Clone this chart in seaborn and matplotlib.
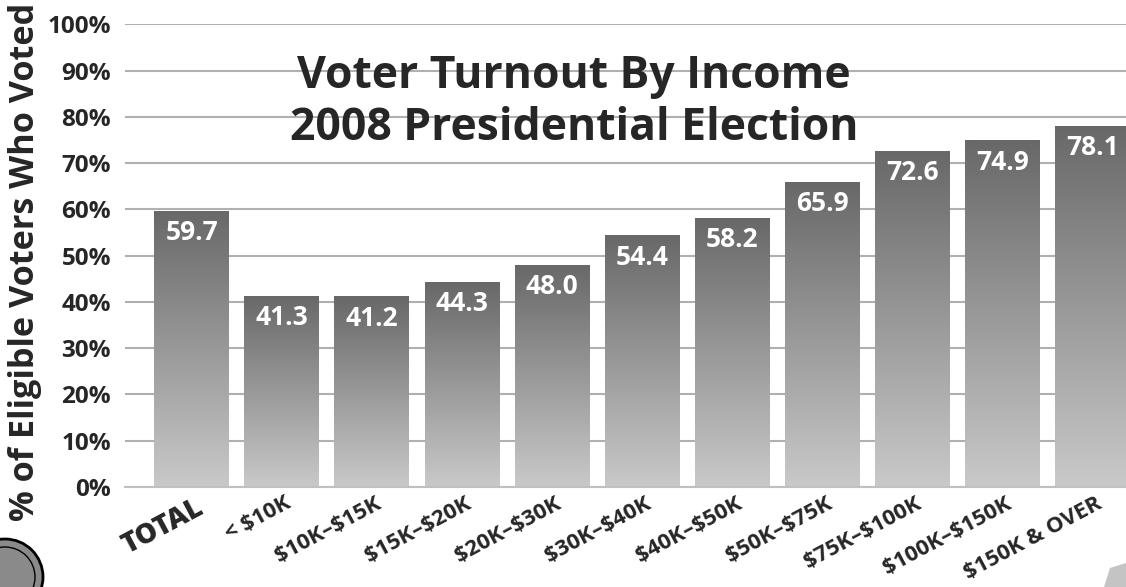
import numpy as np
import matplotlib
matplotlib.use("Agg")
import matplotlib.pyplot as plt
import matplotlib.transforms as mtransforms
from matplotlib.patches import Ellipse, Polygon
import seaborn as sns

# Data
categories = ["TOTAL", "< $10K", "$10K–$15K", "$15K–$20K", "$20K–$30K", "$30K–$40K",
              "$40K–$50K", "$50K–$75K", "$75K–$100K", "$100K–$150K", "$150K & OVER"]
turnout = [59.7, 41.3, 41.2, 44.3, 48.0, 54.4, 58.2, 65.9, 72.6, 74.9, 78.1]
y_ticks = [0, 10, 20, 30, 40, 50, 60, 70, 80, 90, 100]
title_lines = ["Voter Turnout By Income", "2008 Presidential Election"]
y_label = "% of Eligible Voters Who Voted"

sns.set_style("white")
plt.rcParams["font.family"] = ["Open Sans", "DejaVu Sans"]

fig = plt.figure(figsize=(11.26, 5.87), dpi=100)
ax = fig.add_axes([0.111, 0.1704, 0.889, 0.7882])

sns.barplot(x=categories, y=turnout, color="#888888", width=0.83, ax=ax,
            saturation=1, zorder=2)

# grey gradient fill in each bar, dark at top and light at bottom
grad = np.linspace(0, 1, 256).reshape(-1, 1)
cmap = matplotlib.colors.LinearSegmentedColormap.from_list("bar", ["#c9c9c9", "#686868"])
for patch in ax.patches:
    x0, w = patch.get_x(), patch.get_width()
    h = patch.get_height()
    im = ax.imshow(grad, cmap=cmap, aspect="auto", origin="lower",
                   extent=[x0, x0 + w, 0, h], zorder=2.5)
    im.set_clip_path(patch)
    patch.set_facecolor("none")
    patch.set_edgecolor("none")

for i, v in enumerate(turnout):
    ax.annotate(f"{v:.1f}", (i, v), xytext=(0, -6), textcoords="offset points",
                ha="center", va="top", color="white", fontsize=19,
                fontweight="bold", zorder=4)

ax.set_xlim(-0.74, 10.37)
ax.set_ylim(0, 100)
ax.set_yticks(y_ticks)
ax.set_yticklabels([f"{t}%" for t in y_ticks], fontsize=17.5, fontweight="bold")
ax.yaxis.grid(True, color="#b0b0b0", linewidth=1.5, zorder=0)
ax.set_axisbelow(True)
for side in ["top", "right", "left"]:
    ax.spines[side].set_visible(False)
ax.spines["bottom"].set_color("#c0c0c0")
ax.spines["bottom"].set_linewidth(1.5)
ax.tick_params(axis="both", length=0)
ax.tick_params(axis="y", pad=10)
ax.set_xlabel("")
ax.set_ylabel("")

# escape the dollar signs so they are not read as mathtext
ax.set_xticks(range(len(categories)))
ax.set_xticklabels([c.replace("$", r"\$") for c in categories])
offset = mtransforms.ScaledTranslation(3 / 100, -1 / 100, fig.dpi_scale_trans)
for i, lab in enumerate(ax.get_xticklabels()):
    lab.set_rotation(28)
    lab.set_ha("right")
    lab.set_va("top")
    lab.set_rotation_mode("anchor")
    lab.set_fontweight("heavy" if i == 0 else "bold")
    lab.set_fontsize(20 if i == 0 else 16)
    lab.set_transform(lab.get_transform() + offset)

fig.text(0.51, 1 - 88 / 587, title_lines[0], ha="center", va="baseline",
         fontsize=32, fontweight="bold", zorder=5)
fig.text(0.51, 1 - 140 / 587, title_lines[1], ha="center", va="baseline",
         fontsize=32, fontweight="bold", zorder=5)

ylab = fig.text(25 / 1126, 1 - 262 / 587, y_label, rotation=90, ha="center",
                va="center", fontsize=23, fontweight="bold")
# size the axis title so it spans the same ~519 px as in the reference
renderer = fig.canvas.get_renderer()
span = ylab.get_window_extent(renderer).height
ylab.set_fontsize(23 * 519 / span)

# decorative shapes in the lower corners
cx, cy = 5 / 1126, 1 - 577 / 587
fig.patches.append(Ellipse((cx, cy), 76 / 1126, 76 / 587, transform=fig.transFigure,
                           facecolor="#8a8a8a", edgecolor="black", linewidth=2))
fig.patches.append(Ellipse((cx, cy), 60 / 1126, 60 / 587, transform=fig.transFigure,
                           facecolor="none", edgecolor="black", linewidth=1))
fig.patches.append(Polygon([(1110 / 1126, 1 - 568 / 587), (1126 / 1126, 1 - 563 / 587),
                            (1, 0), (1104 / 1126, 0)], closed=True,
                           transform=fig.transFigure, facecolor="#c4c4c4", edgecolor="none"))

plt.savefig("out.png", dpi=100)
plt.close()
